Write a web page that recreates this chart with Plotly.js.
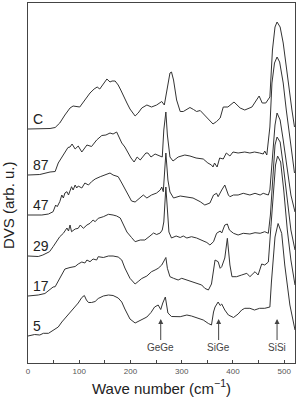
<!DOCTYPE html>
<html>
<head>
<meta charset="utf-8">
<script src="https://cdn.plot.ly/plotly-3.0.1.min.js"></script>
<style>
  html, body { margin: 0; padding: 0; background: #fff; }
  #chart { width: 298px; height: 399px; }
</style>
</head>
<body>
<div id="chart"></div>
<script>
// Sample names, bottom to top, and the vertical offset of each spectrum
const samples = ["5", "17", "29", "47", "87", "C"];
const offsets = [0, 4.0, 8.0, 12.1, 16.1, 20.7];

// Wave numbers (cm^-1) and DVS intensities (arb. u.) for each sample
const wave5 = [0, 13, 23, 30, 40, 49, 59, 66, 76, 85, 92, 98, 105, 110, 114, 118, 124, 131, 137, 147, 157, 166, 176, 183, 189, 199, 209, 219, 232, 240, 247, 254, 259, 263, 268, 273, 280, 297, 310, 319, 332, 342, 352, 358, 362, 365, 371, 375, 378, 384, 391, 401, 410, 417, 423, 433, 442, 452, 462, 472, 475, 482, 488, 495, 501, 505, 511, 521];
const dvs5 = [0, 0.15, 0.1, 0.27, 0.27, 0.55, 0.9, 1.4, 2.0, 2.55, 2.95, 3.3, 3.85, 4.05, 3.6, 3.35, 3.35, 3.45, 3.75, 4.0, 4.1, 4.05, 3.8, 3.4, 2.7, 1.7, 1.3, 1.55, 1.9, 2.35, 2.9, 3.1, 2.65, 3.3, 3.9, 2.3, 1.95, 1.93, 2.1, 2.0, 1.77, 1.6, 1.25, 1.1, 2.4, 2.9, 3.4, 3.05, 3.2, 2.6, 2.1, 1.85, 2.2, 2.6, 2.77, 2.77, 2.6, 2.77, 2.77, 2.9, 5.4, 9.9, 11.25, 10.27, 7.1, 5.6, 3.1, 0.6];

const wave17 = [0, 20, 33, 43, 49, 53, 59, 66, 72, 82, 92, 98, 105, 111, 115, 121, 127, 134, 137, 147, 157, 166, 176, 183, 189, 199, 209, 215, 222, 232, 241, 248, 254, 261, 265, 269, 272, 277, 284, 293, 300, 310, 319, 329, 339, 345, 352, 358, 362, 365, 371, 375, 378, 384, 389, 392, 394, 398, 407, 417, 427, 433, 443, 449, 456, 462, 469, 474, 479, 483, 487, 493, 499, 506, 513, 521];
const dvs17 = [0, 0.1, 0.25, 0.6, 0.9, 0.93, 1.5, 2.2, 2.7, 2.85, 2.95, 3.2, 3.4, 3.3, 3.6, 3.43, 3.7, 3.6, 3.93, 3.85, 4.0, 4.0, 3.9, 3.6, 2.8, 1.77, 1.2, 1.45, 1.75, 2.0, 2.43, 2.6, 2.77, 3.1, 3.43, 3.85, 2.77, 1.93, 1.77, 1.6, 1.77, 1.6, 1.43, 1.27, 1.1, 0.77, 0.6, 1.2, 2.8, 3.6, 3.43, 2.77, 2.93, 3.8, 5.77, 4.1, 3.1, 1.93, 1.93, 2.1, 2.27, 1.93, 2.43, 2.1, 3.2, 3.1, 3.4, 6.93, 9.93, 13.1, 14.0, 13.4, 10.6, 6.6, 3.6, 1.1];

const wave29 = [0, 20, 29, 36, 42, 49, 56, 62, 69, 76, 79, 82, 85, 92, 98, 102, 108, 115, 121, 127, 131, 137, 147, 157, 166, 173, 180, 186, 193, 202, 209, 219, 228, 238, 245, 251, 258, 262, 265, 269, 272, 275, 280, 289, 297, 303, 310, 319, 329, 339, 349, 355, 362, 368, 375, 378, 384, 389, 393, 401, 410, 420, 433, 443, 453, 462, 469, 473, 478, 482, 486, 492, 498, 505, 513, 521];
const dvs29 = [0, -0.05, 0.1, 0.27, 0.43, 0.93, 1.43, 1.93, 2.27, 2.8, 2.5, 3.1, 2.43, 2.7, 2.77, 3.1, 2.77, 3.1, 3.27, 3.6, 3.43, 3.77, 3.93, 4.17, 4.1, 4.0, 3.8, 3.1, 2.4, 1.85, 1.43, 1.6, 1.6, 2.0, 2.3, 2.15, 2.3, 2.6, 3.4, 6.9, 4.1, 2.4, 1.8, 2.0, 1.85, 2.0, 1.8, 1.93, 1.8, 1.6, 1.35, 1.1, 1.43, 2.27, 2.5, 2.3, 3.1, 3.2, 2.6, 2.27, 2.1, 2.27, 2.2, 2.33, 2.27, 2.43, 2.27, 4.1, 8.1, 11.1, 11.9, 11.4, 9.1, 5.8, 2.6, 0.6];

const wave47 = [0, 27, 40, 49, 54, 57, 62, 66, 69, 72, 76, 79, 85, 88, 92, 95, 98, 105, 111, 118, 124, 131, 141, 150, 160, 166, 176, 183, 193, 202, 209, 219, 225, 232, 241, 251, 258, 261, 264, 269, 273, 277, 284, 297, 310, 322, 336, 345, 355, 362, 368, 371, 378, 384, 391, 394, 401, 410, 420, 433, 443, 453, 459, 469, 472, 477, 482, 486, 492, 498, 505, 513, 521];
const dvs47 = [0, 0, 0.1, 0.33, 1.0, 0.83, 1.33, 2.0, 1.7, 2.2, 2.33, 2.0, 2.83, 2.5, 3.0, 2.7, 2.9, 2.7, 3.2, 3.0, 3.33, 3.6, 3.83, 4.0, 4.2, 4.0, 3.83, 3.2, 2.3, 1.4, 1.3, 1.7, 2.0, 1.7, 2.0, 2.2, 2.5, 2.8, 2.33, 6.2, 3.5, 2.3, 1.7, 1.9, 1.8, 1.7, 1.33, 1.0, 1.2, 2.0, 2.17, 1.83, 2.5, 3.0, 2.0, 1.83, 2.0, 2.0, 2.17, 2.0, 2.17, 2.0, 2.17, 2.0, 2.5, 5.5, 9.0, 10.2, 9.5, 7.5, 4.7, 2.0, 0.3];

const wave87 = [0, 23, 43, 53, 59, 66, 72, 78, 82, 86, 92, 98, 105, 115, 124, 134, 144, 152, 160, 166, 173, 178, 183, 189, 195, 201, 207, 213, 219, 224, 230, 234, 240, 248, 254, 262, 265, 269, 272, 277, 283, 293, 306, 316, 328, 342, 351, 358, 361, 364, 369, 374, 381, 387, 394, 400, 410, 423, 433, 442, 452, 459, 462, 466, 472, 476, 481, 486, 491, 498, 504, 511, 517, 520];
const dvs87 = [0, 0.05, 0.3, 0.35, 1.2, 1.8, 2.2, 2.75, 2.8, 3.1, 2.6, 2.9, 2.3, 3.0, 2.85, 3.5, 3.95, 4.0, 4.2, 4.1, 4.3, 3.8, 3.2, 2.8, 2.2, 1.7, 1.3, 1.8, 1.5, 1.8, 2.2, 2.2, 1.8, 2.1, 2.0, 1.8, 4.5, 6.3, 4.0, 1.8, 1.4, 1.8, 2.0, 1.9, 1.7, 1.6, 1.2, 1.0, 0.8, 1.2, 0.8, 1.7, 1.6, 2.2, 1.9, 2.3, 2.2, 2.3, 2.2, 2.3, 2.2, 2.1, 2.4, 2.0, 4.8, 9.2, 11.2, 11.8, 11.3, 9.2, 6.5, 3.8, 1.7, 0.2];

const waveC = [0, 23, 43, 53, 62, 72, 82, 88, 96, 101, 111, 121, 129, 135, 140, 148, 154, 160, 164, 170, 176, 181, 186, 193, 199, 209, 215, 222, 232, 241, 251, 258, 261, 266, 271, 277, 280, 284, 290, 297, 303, 310, 316, 323, 329, 336, 342, 352, 361, 368, 375, 381, 390, 402, 414, 423, 437, 451, 457, 464, 472, 477, 482, 486, 492, 498, 505, 515, 520];
const dvsC = [0, 0, 0.05, 0.15, 0.6, 1.4, 2.1, 2.3, 2.25, 2.2, 2.9, 3.6, 4.0, 4.2, 4.0, 4.6, 5.0, 4.7, 4.8, 4.8, 4.4, 3.9, 3.3, 2.6, 2.0, 1.3, 1.6, 2.1, 2.4, 2.2, 2.4, 2.6, 2.75, 2.4, 3.9, 5.6, 5.7, 4.9, 2.9, 1.75, 1.75, 1.95, 2.15, 1.95, 1.75, 1.85, 1.55, 1.05, 0.5, 0.75, 1.1, 2.2, 2.2, 2.7, 2.1, 1.9, 2.2, 3.3, 2.6, 2.6, 3.2, 7.9, 10.2, 10.7, 10.2, 8.6, 5.6, 1.9, 0.2];

// Phonon band assignments marked along the bottom
const bandNames = ["GeGe", "SiGe", "SiSi"];
const bandWave = [259, 372, 486];

const waves = [wave5, wave17, wave29, wave47, wave87, waveC];
const dvs = [dvs5, dvs17, dvs29, dvs47, dvs87, dvsC];

const lineColor = "#333333";

const traces = samples.map((name, i) => ({
  type: "scatter",
  mode: "lines",
  name: name,
  x: waves[i],
  y: dvs[i].map(v => v + offsets[i]),
  line: { color: lineColor, width: 1 },
  hoverinfo: "skip"
}));

const annotations = [];

// sample labels sitting on each spectrum's baseline
samples.forEach((name, i) => {
  annotations.push({
    x: 6, y: offsets[i] + 1.0, xref: "x", yref: "y",
    text: name, showarrow: false,
    xanchor: "left", yanchor: "middle",
    font: { family: "Liberation Sans, Arial, sans-serif", size: 14, color: "#222" }
  });
});

// band markers: arrows pointing up at the baseline of the lowest spectrum
bandNames.forEach((name, i) => {
  annotations.push({
    x: bandWave[i], y: 1.7, xref: "x", yref: "y",
    text: name, showarrow: true,
    ax: 0, ay: 28,
    arrowhead: 2, arrowsize: 1, arrowwidth: 1, arrowcolor: "#444",
    font: { family: "Liberation Sans, Arial, sans-serif", size: 10, color: "#444" }
  });
});

// vertical axis title
annotations.push({
  x: -0.071, y: 0.439, xref: "paper", yref: "paper",
  text: "DVS (arb. u.)", showarrow: false, textangle: -90,
  xanchor: "center", yanchor: "middle",
  font: { family: "Liberation Sans, Arial, sans-serif", size: 15, color: "#222" }
});

const layout = {
  width: 298,
  height: 399,
  margin: { l: 28, r: 3, t: 3, b: 36 },
  paper_bgcolor: "#fff",
  plot_bgcolor: "#fff",
  showlegend: false,
  xaxis: {
    range: [0, 521],
    showgrid: false,
    zeroline: false,
    showline: true,
    mirror: true,
    linecolor: "#444",
    linewidth: 1,
    ticks: "inside",
    ticklen: 3,
    tickcolor: "#444",
    tickvals: [0, 100, 200, 300, 400, 500],
    ticktext: ["0", "100", "200", "300", "400", "500"],
    minor: { tickvals: [50, 150, 250, 350, 450], ticks: "inside", ticklen: 3, tickcolor: "#444" },
    tickfont: { family: "Liberation Sans, Arial, sans-serif", size: 8, color: "#555" },
    title: {
      text: "Wave number (cm<sup>−1</sup>)",
      font: { family: "Liberation Sans, Arial, sans-serif", size: 15, color: "#222" },
      standoff: 8
    }
  },
  yaxis: {
    range: [-2.7, 33.3],
    showgrid: false,
    zeroline: false,
    showline: true,
    mirror: true,
    linecolor: "#444",
    linewidth: 1,
    ticks: "",
    showticklabels: false
  },
  annotations: annotations
};

Plotly.newPlot("chart", traces, layout, { displayModeBar: false, staticPlot: true });
</script>
</body>
</html>
